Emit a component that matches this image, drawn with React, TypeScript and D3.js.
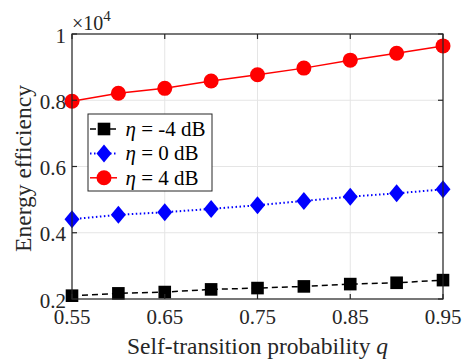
import React from "react";
import * as d3 from "d3";

// self-transition probability
const qValues = [0.55, 0.6, 0.65, 0.7, 0.75, 0.8, 0.85, 0.9, 0.95];
// energy efficiency (x 10^4)
const etaMinus4 = [0.21, 0.217, 0.221, 0.229, 0.233, 0.238, 0.245, 0.249, 0.257];
const eta0 = [0.441, 0.454, 0.462, 0.472, 0.483, 0.496, 0.509, 0.519, 0.531];
const eta4 = [0.797, 0.821, 0.836, 0.858, 0.877, 0.897, 0.921, 0.942, 0.964];

const xTicks = [0.55, 0.65, 0.75, 0.85, 0.95];
const yTicks = [0.2, 0.4, 0.6, 0.8, 1];
const legendLabels = ["-4 dB", "0 dB", "4 dB"];

const width = 466;
const height = 360;
const margin = { top: 34, right: 23, bottom: 61, left: 72 };
const AXIS = "#262626";

const series = [
  { values: etaMinus4, color: "#000000", dash: "6,4", marker: "square", width: 1.5 },
  { values: eta0, color: "#0000ff", dash: "1.5,2.5", marker: "diamond", width: 2 },
  { values: eta4, color: "#ff0000", dash: null, marker: "circle", width: 1.5 },
];

const Marker = ({ type, x, y, color }: { type: string; x: number; y: number; color: string }) => {
  if (type === "square") return <rect x={x - 6.3} y={y - 6.3} width={12.6} height={12.6} fill={color} />;
  if (type === "diamond")
    return <path d={`M${x},${y - 9}L${x + 7.5},${y}L${x},${y + 9}L${x - 7.5},${y}Z`} fill={color} />;
  return <circle cx={x} cy={y} r={7.5} fill={color} />;
};

export default function App() {
  const x = d3
    .scaleLinear()
    .domain([0.55, 0.95])
    .range([margin.left, width - margin.right]);
  const y = d3
    .scaleLinear()
    .domain([0.2, 1])
    .range([height - margin.bottom, margin.top]);
  const x0 = x.range()[0];
  const x1 = x.range()[1];
  const y0 = y.range()[0];
  const y1 = y.range()[1];

  const line = d3
    .line<number>()
    .x((_, i) => x(qValues[i]))
    .y((d) => y(d));

  return (
    <svg width={width} height={height} style={{ position: "absolute", left: 0, top: 0 }}>
      <style>{`text { font-family: "Liberation Serif", serif; fill: #262626; }`}</style>
      <rect x={0} y={0} width={width} height={height} fill="#fff" />
      {/* grid */}
      <g stroke="#e5e5e5" strokeWidth={1}>
        {xTicks.map((t) => (
          <line key={"gx" + t} x1={x(t)} x2={x(t)} y1={y0} y2={y1} />
        ))}
        {yTicks.map((t) => (
          <line key={"gy" + t} x1={x0} x2={x1} y1={y(t)} y2={y(t)} />
        ))}
      </g>

      {/* lines and markers */}
      {series.map((s, si) => (
        <g key={si}>
          <path
            d={line(s.values) || ""}
            fill="none"
            stroke={s.color}
            strokeWidth={s.width}
            strokeDasharray={s.dash || undefined}
          />
          {s.values.map((v, i) => (
            <Marker key={i} type={s.marker} x={x(qValues[i])} y={y(v)} color={s.color} />
          ))}
        </g>
      ))}

      {/* axes box */}
      <g stroke={AXIS} strokeWidth={1.2} fill="none">
        <rect x={x0} y={y1} width={x1 - x0} height={y0 - y1} />
        {xTicks.map((t) => (
          <g key={"tx" + t}>
            <line x1={x(t)} x2={x(t)} y1={y0} y2={y0 - 5} />
            <line x1={x(t)} x2={x(t)} y1={y1} y2={y1 + 5} />
          </g>
        ))}
        {yTicks.map((t) => (
          <g key={"ty" + t}>
            <line x1={x0} x2={x0 + 5} y1={y(t)} y2={y(t)} />
            <line x1={x1} x2={x1 - 5} y1={y(t)} y2={y(t)} />
          </g>
        ))}
      </g>

      {/* tick labels */}
      {xTicks.map((t) => (
        <text key={"lx" + t} x={x(t)} y={y0 + 25} textAnchor="middle" fontSize={21}>
          {d3.format(".2f")(t)}
        </text>
      ))}
      {yTicks.map((t) => (
        <text key={"ly" + t} x={x0 - 6} y={y(t) + 8.5} textAnchor="end" fontSize={21}>
          {t === 1 ? "1" : d3.format(".1f")(t)}
        </text>
      ))}
      <text x={x0} y={y1 - 4} fontSize={20}>
        {"\u00d710"}
        <tspan fontSize={15} dy={-9}>
          4
        </tspan>
      </text>

      {/* axis titles */}
      <text x={(x0 + x1) / 2} y={354} textAnchor="middle" fontSize={23.5}>
        Self-transition probability <tspan fontStyle="italic">q</tspan>
      </text>
      <text
        transform={`translate(31,${(y0 + y1) / 2 + 2}) rotate(-90)`}
        textAnchor="middle"
        fontSize={23.5}
      >
        Energy efficiency
      </text>

      {/* legend */}
      <g>
        <rect x={88} y={114} width={124} height={77} fill="#fff" stroke={AXIS} strokeWidth={1} />
        {series.map((s, i) => {
          const cy = 129 + i * 24.4;
          return (
            <g key={"lg" + i}>
              <line
                x1={90}
                x2={117}
                y1={cy}
                y2={cy}
                stroke={s.color}
                strokeWidth={s.width}
                strokeDasharray={s.dash || undefined}
              />
              <Marker type={s.marker} x={104} y={cy} color={s.color} />
              <text x={125.5} y={cy + 7} fontSize={21} style={{ fill: "#000" }}>
                <tspan fontStyle="italic">{"\u03b7"}</tspan>
                {" = " + legendLabels[i]}
              </text>
            </g>
          );
        })}
      </g>
    </svg>
  );
}
